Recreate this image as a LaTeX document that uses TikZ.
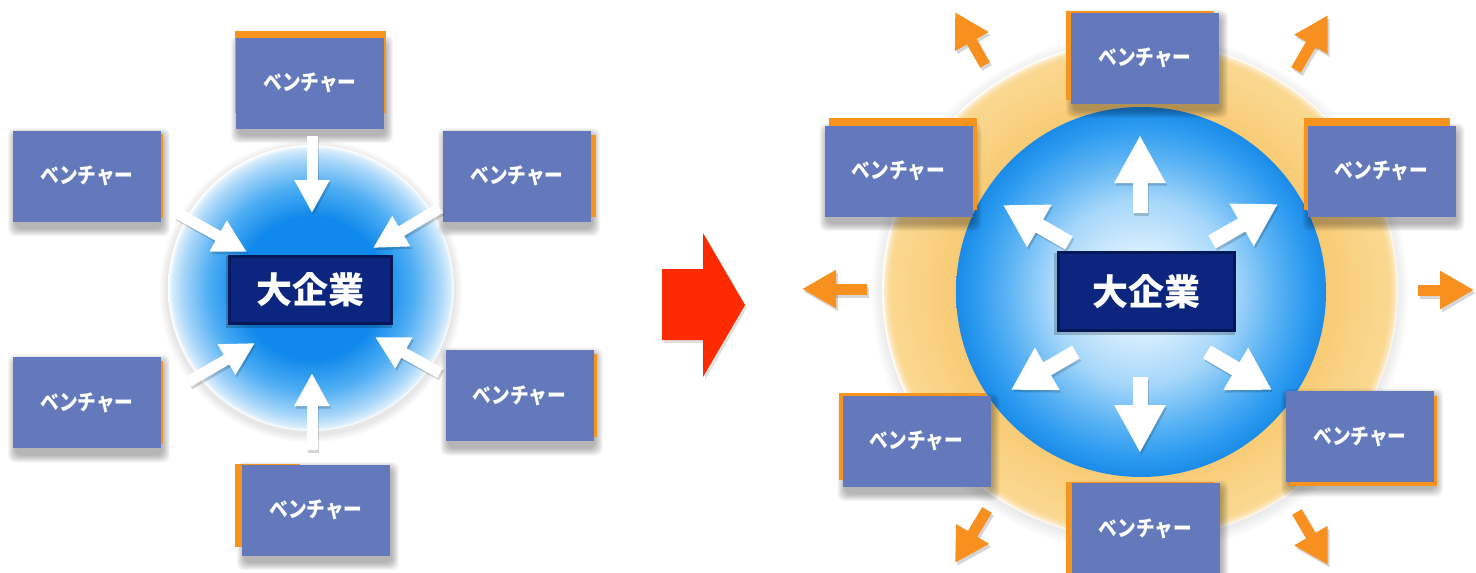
\documentclass[tikz,border=0pt]{standalone}
\usepackage{fontspec}
\newfontfamily\jp{Noto Sans CJK JP}
\newfontfamily\jpc{Noto Sans CJK JP}[FakeStretch=0.85]
\usetikzlibrary{arrows.meta}
\definecolor{vblue}{HTML}{6379BB}
\definecolor{vorange}{HTML}{F7941D}
\definecolor{navy}{HTML}{0C2680}
\definecolor{navydark}{HTML}{061858}
\definecolor{redarrow}{HTML}{FF2A00}
\definecolor{arrorange}{HTML}{F7901E}
\definecolor{gA}{HTML}{1089EC}
\definecolor{gB}{HTML}{4FAEF3}
\definecolor{gC}{HTML}{A8D6F9}
\definecolor{gD}{HTML}{D6ECFC}
\definecolor{rA}{HTML}{F8CA74}
\definecolor{rB}{HTML}{F9D283}
\definecolor{rC}{HTML}{FAD890}
\definecolor{rD}{HTML}{FCE6BC}
\definecolor{bA}{HTML}{EAF6FF}
\definecolor{bB}{HTML}{D5EDFD}
\definecolor{bC}{HTML}{A6D7FA}
\definecolor{bD}{HTML}{5DB4F4}
\definecolor{bE}{HTML}{2B9AF0}
\definecolor{bF}{HTML}{1A8BE8}
\pgfdeclareradialshading{leftglow}{\pgfpoint{0bp}{0bp}}{color(0bp)=(gA); color(12.5bp)=(gA); color(18bp)=(gB); color(22.5bp)=(gC); color(24.3bp)=(gD); color(25bp)=(white); color(50bp)=(white)}
\pgfdeclareradialshading{ringshade}{\pgfpoint{0bp}{0bp}}{color(0bp)=(rA); color(18bp)=(rA); color(21bp)=(rB); color(24.2bp)=(rC); color(24.7bp)=(rD); color(25bp)=(white); color(50bp)=(white)}
\pgfdeclareradialshading{blueball}{\pgfpoint{0bp}{0bp}}{color(0bp)=(bA); color(6bp)=(bB); color(12.5bp)=(bC); color(18bp)=(bD); color(22.5bp)=(bE); color(25bp)=(bF); color(50bp)=(bF)}
\tikzset{
  venture/.style={fill=vblue, minimum width=148pt, minimum height=91pt, inner sep=0pt,
    text=white, font=\jpc\bfseries\fontsize{22}{24}\selectfont},
  lbl/.style={fill=navy, draw=navydark, line width=3pt, inner sep=0pt, text=white,
    font=\jp\bfseries\fontsize{36}{40}\selectfont},
  warrowL/.style={white, line width=11pt, -{Triangle[width=33pt,length=33pt]}},
  warrowR/.style={white, line width=15pt, -{Triangle[width=48pt,length=48pt]}},
  warrowD/.style={white, line width=15pt, -{Triangle[width=46pt,length=42pt]}},
  oarrow/.style={arrorange, line width=11pt, -{Triangle[width=36pt,length=34pt]}},
  shad/.style={black, opacity=0.16},
}
\newcommand\vnt[4]{%
  \foreach \k in {0,...,7}{\fill[black,opacity=0.04,rounded corners=7pt] (#2-74-\k+2,#3-46-\k+5) rectangle (#2+74+\k+2,#3+46+\k+7);}
  \fill[vorange] #4;
  \node[venture] (#1) at (#2,#3) {ベンチャー};}
\newcommand\sarrow[4]{% style, from, to, shadow shift
  \draw[#1,shad] ([shift={#4}]#2) -- ([shift={#4}]#3);
  \draw[#1] (#2) -- (#3);}
\begin{document}
\begin{tikzpicture}[x=1pt,y=-1pt]
\clip (0,0) rectangle (1476,573);
\fill[white] (0,0) rectangle (1476,573);

% ---------- left diagram ----------
\foreach \r in {151,149,147,145}{\fill[black,opacity=0.025] (311,291) circle[radius=\r pt];}
\shade[shading=leftglow] (311,288) circle[radius=143pt];

\vnt{va}{310}{83}{(235,31) rectangle (386,113)}
\vnt{vb}{87}{176}{(15,134) rectangle (163,218)}
\vnt{vc}{517}{176}{(445,135) rectangle (596,217)}
\vnt{vd}{87}{402.5}{(15,361) rectangle (163,444)}
\vnt{ve}{519.5}{395.5}{(449,354) rectangle (597,437)}
\vnt{vf}{316}{510}{(235,464) rectangle (300,547)}

\coordinate (a1s) at (312,136); \coordinate (a1e) at (312,213);
\coordinate (a2s) at (177,213); \coordinate (a2e) at (247,252);
\coordinate (a3s) at (440,208); \coordinate (a3e) at (373,248);
\coordinate (a4s) at (188,382); \coordinate (a4e) at (255,343);
\coordinate (a5s) at (440,373); \coordinate (a5e) at (375,337);
\coordinate (a6s) at (312,450); \coordinate (a6e) at (312,373);
\foreach \n in {1,...,6}{\sarrow{warrowL}{a\n s}{a\n e}{(1.5,2.5)}}

\fill[black,opacity=0.2] (226,256) rectangle (392,328);
\node[lbl, minimum width=162pt, minimum height=67pt] (bigL) at (310.5,290) {大企業};

% ---------- red arrow ----------
\fill[black,opacity=0.12] (664,272) -- (705,272) -- (705,236) -- (747,308) -- (705,380) -- (705,343) -- (664,343) -- cycle;
\fill[redarrow] (662,269) -- (703,269) -- (703,233) -- (745,305) -- (703,377) -- (703,340) -- (662,340) -- cycle;

% ---------- right diagram ----------
\foreach \r in {268,265,262,259}{\fill[black,opacity=0.02] (1140,293) ellipse[x radius=\r pt, y radius=\r pt-8pt];}
\shade[shading=ringshade] (1140,290) ellipse[x radius=258pt, y radius=250pt];
\shade[shading=blueball] (1141,292) circle[radius=185pt];

\coordinate (o1s) at (985,65);   \coordinate (o1e) at (955,12);
\coordinate (o2s) at (1296,70);  \coordinate (o2e) at (1328,15);
\coordinate (o3s) at (867,289);  \coordinate (o3e) at (802,289);
\coordinate (o4s) at (1418,290); \coordinate (o4e) at (1474,290);
\coordinate (o5s) at (987,510);  \coordinate (o5e) at (955,563);
\coordinate (o6s) at (1297,512); \coordinate (o6e) at (1328,565);
\foreach \n in {1,...,6}{\sarrow{oarrow}{o\n s}{o\n e}{(2,3)}}

\coordinate (w1s) at (1140,213); \coordinate (w1e) at (1140,135);
\coordinate (w2s) at (1140,377); \coordinate (w2e) at (1140,453);
\sarrow{warrowR}{w1s}{w1e}{(1.5,2.5)}
\sarrow{warrowR}{w2s}{w2e}{(1.5,2.5)}
\coordinate (w3s) at (1069,243); \coordinate (w3e) at (1003,205);
\coordinate (w4s) at (1212,242); \coordinate (w4e) at (1278,204);
\coordinate (w5s) at (1076,352); \coordinate (w5e) at (1011,390);
\coordinate (w6s) at (1207,352); \coordinate (w6e) at (1272,390);
\foreach \n in {3,...,6}{\sarrow{warrowD}{w\n s}{w\n e}{(1.5,2.5)}}

\fill[black,opacity=0.2] (1054,253) rectangle (1235,335);
\node[lbl, minimum width=176pt, minimum height=78pt] (bigR) at (1146.5,291.5) {大企業};

\vnt{vg}{1145}{58}{(1066,11) rectangle (1214,100)}
\vnt{vh}{898.5}{171}{(829,118) rectangle (977,210)}
\vnt{vi}{1381.5}{171}{(1304,118) rectangle (1450,210)}
\vnt{vj}{916.5}{441}{(839,393) rectangle (986,480)}
\vnt{vk}{1360}{436.5}{(1290,396) rectangle (1437,486)}
\vnt{vm}{1145.5}{528.5}{(1066,482) rectangle (1214,573)}
\end{tikzpicture}
\end{document}
